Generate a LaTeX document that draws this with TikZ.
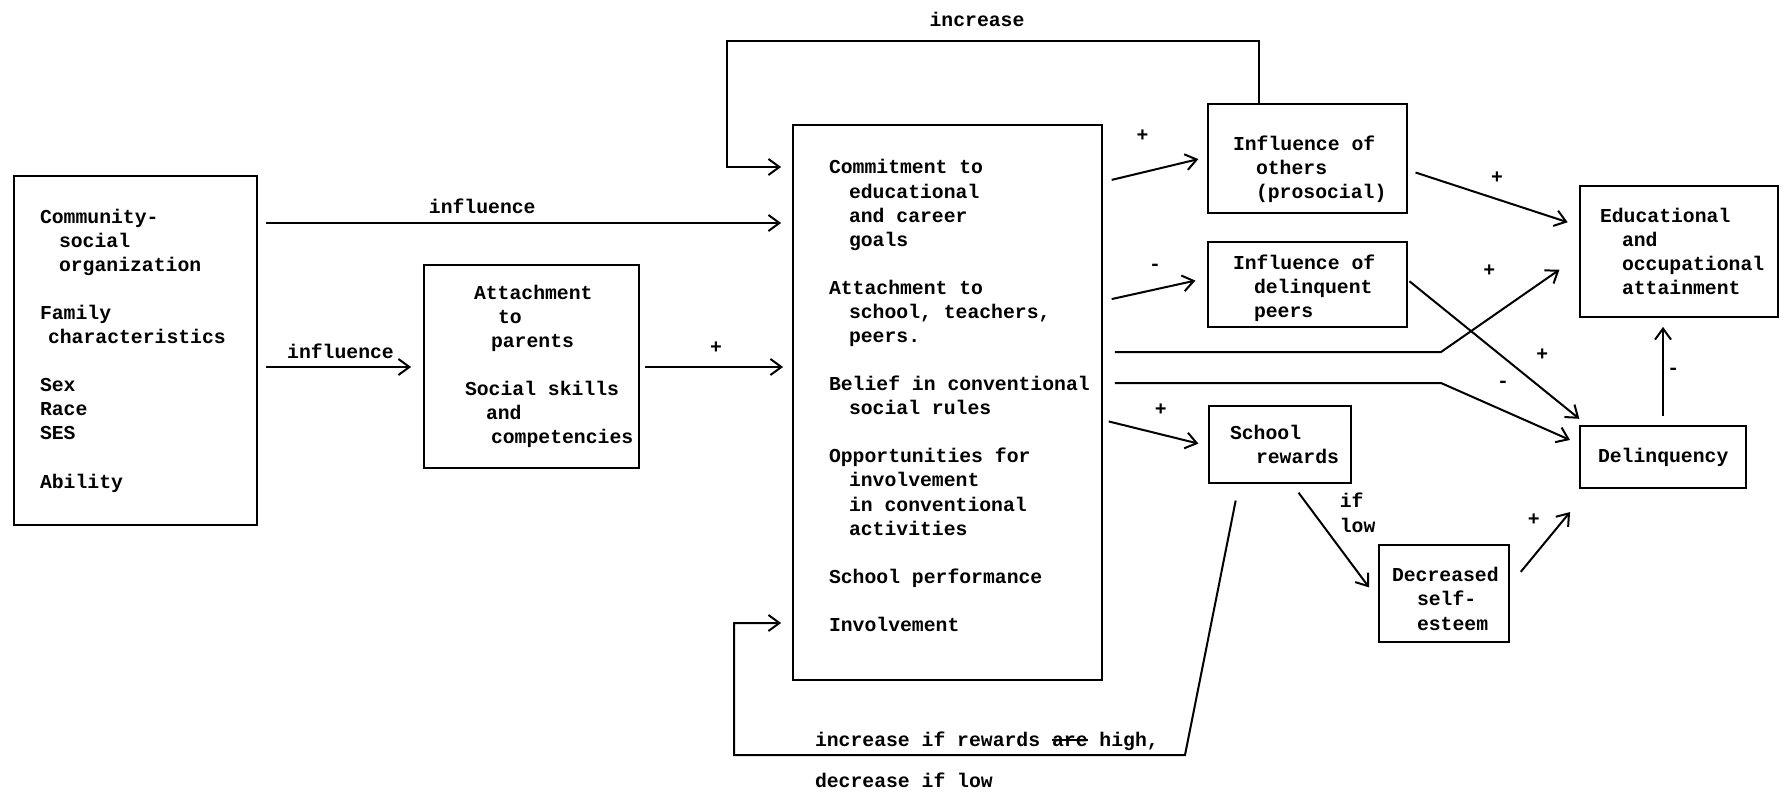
\documentclass[tikz,border=0pt]{standalone}
\usepackage{fontspec}
\setmonofont{Liberation Mono}
\usetikzlibrary{arrows.meta,calc}
\newcommand{\struck}[1]{\setbox0\hbox{#1}\rlap{\rule[0.28em]{\wd0}{1.6pt}}\box0}
\tikzset{
  box/.style n args={3}{ % framed box: width, height, left margin
    draw, line width=1.8pt, align=flush left, inner ysep=1pt,
    minimum width=#1, minimum height=#2,
    inner xsep=#3, text width=#1-2*#3
  },
  link/.style={ % arrow between boxes
    ->, line width=2pt
  }
}

\begin{document}
\begin{tikzpicture}[
      x=1pt, y=-1pt,
      >={Straight Barb[length=11pt,width=16pt]},
      font=\ttfamily\bfseries\fontsize{19.75pt}{24.1pt}\selectfont
    ]
      \useasboundingbox (0,0) rectangle (1782,798);

      \node[box={243pt}{349pt}{26pt}] (comm) at (135.5,350.5) {Community-\\
        \hspace*{19pt}social\\
        \hspace*{19pt}organization\\[24pt]
        Family\\
        \hspace*{8pt}characteristics\\[24pt]
        Sex\\ Race\\ SES\\[24pt]
        Ability};
      \node[box={215pt}{203pt}{41pt}] (par) at (531.5,366.5) {\hspace*{9pt}Attachment\\
        \hspace*{33pt}to\\
        \hspace*{26pt}parents\\[24pt]
        Social~skills\\
        \hspace*{21pt}and\\
        \hspace*{26pt}competencies};
      \node[box={309pt}{555pt}{36pt}] (mid) at (947.5,402.5) {Commitment to\\
        \hspace*{20pt}educational\\
        \hspace*{20pt}and career\\
        \hspace*{20pt}goals\\[24pt]
        Attachment to\\
        \hspace*{20pt}school, teachers,\\
        \hspace*{20pt}peers.\\[24pt]
        Belief~in~conventional\\
        \hspace*{20pt}social rules\\[24pt]
        Opportunities for\\
        \hspace*{20pt}involvement\\
        \hspace*{20pt}in conventional\\
        \hspace*{20pt}activities\\[24pt]
        School performance\\[24pt]
        Involvement\rule[-14pt]{0pt}{14pt}};
      \node[box={199pt}{109pt}{25pt}] (others) at (1307.5,158.5) {\rule{0pt}{36pt}Influence of\\
        \hspace*{23pt}others\\
        \hspace*{23pt}(prosocial)};
      \node[box={199pt}{85pt}{25pt}] (peers) at (1307.5,284.5) {\rule{0pt}{22pt}Influence of\\
        \hspace*{21pt}delinquent\\
        \hspace*{21pt}peers};
      \node[box={142pt}{77pt}{21pt}] (rewards) at (1280,444.5) {School\\
        \hspace*{26pt}rewards};
      \node[box={198pt}{131pt}{20pt}] (educ) at (1679,251.5) {Educational\\
        \hspace*{22pt}and\\
        \hspace*{22pt}occupational\\
        \hspace*{22pt}attainment};
      \node[box={166pt}{62pt}{18pt}] (delinq) at (1663,457) {Delinquency};
      \node[box={130pt}{97pt}{13pt}] (self) at (1444,593.5) {\rule{0pt}{25pt}Decreased\\
        \hspace*{25pt}self-\\
        \hspace*{25pt}esteem};

      % corners of the feedback loops and bends
      \coordinate (loopT) at (727,41);
      \coordinate (loopB) at (1185,755);
      \coordinate (loopC) at (734,755);
      \coordinate (bendA) at (1441,352);
      \coordinate (bendB) at (1441,383);

      \draw[link, shorten <=8pt, shorten >=11pt] (comm.east |- 0,223) -- node[pos=0.42, above=5pt]{influence} (mid.west |- 0,223);
      \draw[link, shorten <=8pt, shorten >=12pt] (comm.east |- 0,367) -- node[above=4pt]{influence} (par.west |- 0,367);
      \draw[link, shorten <=5pt, shorten >=9pt] (par.east |- 0,367) -- node[above=9pt]{+} (mid.west |- 0,367);
      \draw[link, shorten >=11pt] ([xshift=-48.5pt]others.north) |- node[pos=0.765, above=10pt]{increase} (loopT) |- (mid.west |- 0,167);
      \draw[link, shorten <=17pt, shorten >=11pt] ([xshift=-41pt]rewards.south) -- (loopB)
        -- node[pos=0.83, anchor=south west]{increase if rewards \struck{are}\ high,}
           node[pos=0.83, anchor=north west, yshift=-14pt]{decrease if low} (loopC)
        |- (mid.west |- 0,623);

      \draw[link, shorten <=9pt, shorten >=9pt] ([yshift=220.5pt]mid.east) -- node[pos=0.38, yshift=37pt]{+} ([yshift=1.5pt]others.west);
      \draw[link, shorten <=9pt, shorten >=12pt] ([yshift=101.5pt]mid.east) -- node[pos=0.5, yshift=22.5pt]{-} ([yshift=6.5pt]peers.west);
      \draw[link, shorten <=12pt, shorten >=24pt] ([yshift=50.5pt]mid.east) -- (bendA) -- node[pos=0.35, yshift=48pt]{+} ([yshift=-4.5pt]educ.west);
      \draw[link, shorten <=12pt, shorten >=10pt] ([yshift=19.5pt]mid.east) -- (bendB) -- node[pos=0.45, yshift=26.5pt]{-} ([yshift=13pt]delinq.west);
      \draw[link, shorten <=6pt, shorten >=10pt] ([yshift=-17.5pt]mid.east) -- node[pos=0.55, yshift=25pt]{+} ([yshift=-1.5pt]rewards.west);
      \draw[link, shorten <=8pt, shorten >=12pt] ([yshift=-11.5pt]others.east) -- node[pos=0.52, yshift=21pt]{+} ([yshift=25.5pt]educ.west);
      \draw[link, shorten <=2pt, shorten >=10pt] ([yshift=4.5pt]peers.east) -- node[pos=0.75, yshift=34.5pt]{+} ([xshift=8pt]delinq.north west);
      \draw[link, shorten <=9pt, shorten >=9pt] (delinq.north) -- node[midway, right]{-} (delinq.north |- educ.south);
      \draw[link, shorten <=11pt, shorten >=15pt] ([xshift=12pt]rewards.south) -- node[pos=0.25, anchor=west, xshift=22pt, align=left]{if\\low} ([yshift=-6pt]self.west);
      \draw[link, shorten <=17pt, shorten >=30pt] ([yshift=8.5pt]self.east) -- node[pos=0.3, yshift=36pt]{+} ([xshift=10pt]delinq.south west);
    \end{tikzpicture}
\end{document}
